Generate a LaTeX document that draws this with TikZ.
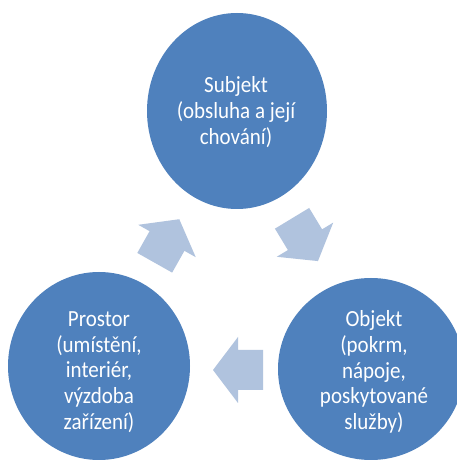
\documentclass[tikz,border=0pt]{standalone}
\usepackage{fontspec}
\setmainfont{Carlito}
\usetikzlibrary{shapes.geometric}
\definecolor{circblue}{HTML}{4F81BD}
\definecolor{arrblue}{HTML}{B0C3DE}
\tikzset{
  bubble/.style={ellipse, fill=circblue, draw=none, inner sep=0pt},
  bubbletext/.style={align=center, text=white, inner sep=0pt, transform shape, yscale=1.1, font=\fontsize{21}{23.3}\selectfont},
  blockarrow/.style={fill=arrblue, draw=none}
}
\newcommand{\cyclearrow}[3]{%
  \fill[blockarrow, shift={(#1,#2)}, rotate=#3]
    (25,0) -- (0,33) -- (0,20) -- (-25,20) -- (-25,-20) -- (0,-20) -- (0,-33) -- cycle;}
\begin{document}
\begin{tikzpicture}[x=1pt,y=1pt]
\useasboundingbox (0,0) rectangle (456,464);
\fill[white] (0,0) rectangle (456,464);
% circles
\node[bubble, minimum width=180pt, minimum height=196pt] (subj) at (237,353) {};
\node[bubble, minimum width=182pt, minimum height=188pt] (prost) at (99,98) {};
\node[bubble, minimum width=186pt, minimum height=182pt] (obj) at (371,95) {};
% texts
\node[bubbletext] (subjt) at (236,352) {Subjekt\\(obsluha a její\\chování)};
\node[bubbletext] (prostt) at (99,92) {Prostor\\(umístění,\\interiér,\\výzdoba\\zařízení)};
\node[bubbletext] (objt) at (374,92) {Objekt\\(pokrm,\\nápoje,\\poskytované\\služby)};
% arrows
\cyclearrow{305}{224.3}{-58.8}
\cyclearrow{238}{94}{180}
\cyclearrow{167}{223}{60.6}
\end{tikzpicture}
\end{document}
